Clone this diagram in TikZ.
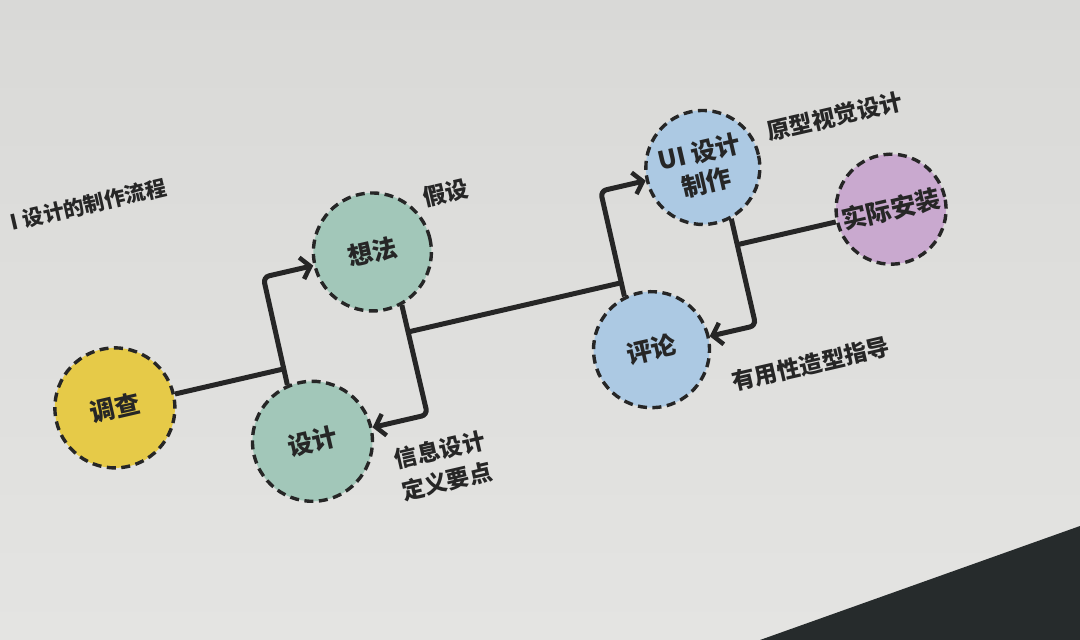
\documentclass[tikz,border=0pt]{standalone}
\usepackage{fontspec}
\setmainfont{Noto Sans CJK SC}
\usetikzlibrary{arrows.meta}
\definecolor{ink}{HTML}{262626}
\definecolor{yel}{HTML}{E6CA48}
\definecolor{grn}{HTML}{A2C7B9}
\definecolor{blu}{HTML}{ACC9E3}
\definecolor{pur}{HTML}{C9A9CF}
\definecolor{pagetop}{HTML}{D9D9D7}
\definecolor{pagemid}{HTML}{EBEBE9}
\definecolor{pagebot}{HTML}{E4E4E2}
\definecolor{dark}{HTML}{262B2C}
\begin{document}
\begin{tikzpicture}[x=1pt,y=1pt,
  bub/.style={circle, draw=ink, line width=3.4pt, dash pattern=on 9pt off 5.5pt,
    inner sep=0pt, align=center, text=ink,
    font=\fontsize{25}{31}\selectfont\bfseries},
  conn/.style={draw=ink, line width=5pt, rounded corners=6pt},
  arr/.style={conn, -{Straight Barb[length=9pt,width=22pt,line width=4.5pt]}},
  lab/.style={text=ink, align=left, inner sep=0pt,
    font=\fontsize{23}{32}\selectfont\bfseries},
  ttl/.style={text=ink, inner sep=0pt, font=\fontsize{21}{26}\selectfont\bfseries}
]
\useasboundingbox (0,-640) rectangle (1080,0);
\shade[top color=pagetop, middle color=pagemid, bottom color=pagebot] (0,-640) rectangle (1080,0);
\fill[dark] (760,-640) -- (1080,-526) -- (1080,-640) -- cycle;

\begin{scope}[shift={(540,-320)}, rotate=13, transform shape]
  % nodes
  \node[bub, fill=yel, minimum size=120pt] (diaocha) at (-434,10) {调查};
  \node[bub, fill=grn, minimum size=120pt] (sheji) at (-249,-67) {设计};
  \node[bub, fill=grn, minimum size=118pt] (xiangfa) at (-148,104) {想法};
  \node[bub, fill=blu, minimum size=114pt] (ui) at (193,112) {UI 设计\\制作};
  \node[bub, fill=blu, minimum size=116pt] (pinglun) at (102,-54) {评论};
  \node[bub, fill=pur, minimum size=110pt] (shiji) at (367,29) {实际安装};

  % junction and corner points
  \coordinate (c1) at (-260,104);
  \coordinate (j1) at (-260,10);
  \coordinate (c2) at (-131,-67);
  \coordinate (j2) at (-131,18);
  \coordinate (j3) at (88,18);
  \coordinate (c3) at (88,112);
  \coordinate (c4) at (209,-54);
  \coordinate (j4) at (209,29);

  % connectors
  \draw[arr] (sheji.101) -- (c1) -- (xiangfa.west);
  \draw[conn] (diaocha.east) -- (j1);
  \draw[arr] (xiangfa.286) -- (c2) -- (sheji.east);
  \draw[conn] (j2) -- (j3);
  \draw[arr] (pinglun.104) -- (c3) -- (ui.west);
  \draw[arr] (ui.286) -- (c4) -- (pinglun.east);
  \draw[conn] (shiji.west) -- (j4);

  % labels
  \node[lab] (jiashe) at (-63,145) {假设};
  \node[lab] (xinxi) at (-127,-120) {信息设计\\定义要点};
  \node[lab] (yuanxing) at (333,132) {原型视觉设计};
  \node[lab] (youyong) at (254,-104) {有用性造型指导};
  \node[ttl] (title) at (-414,214) {I 设计的制作流程};
\end{scope}
\end{tikzpicture}
\end{document}
